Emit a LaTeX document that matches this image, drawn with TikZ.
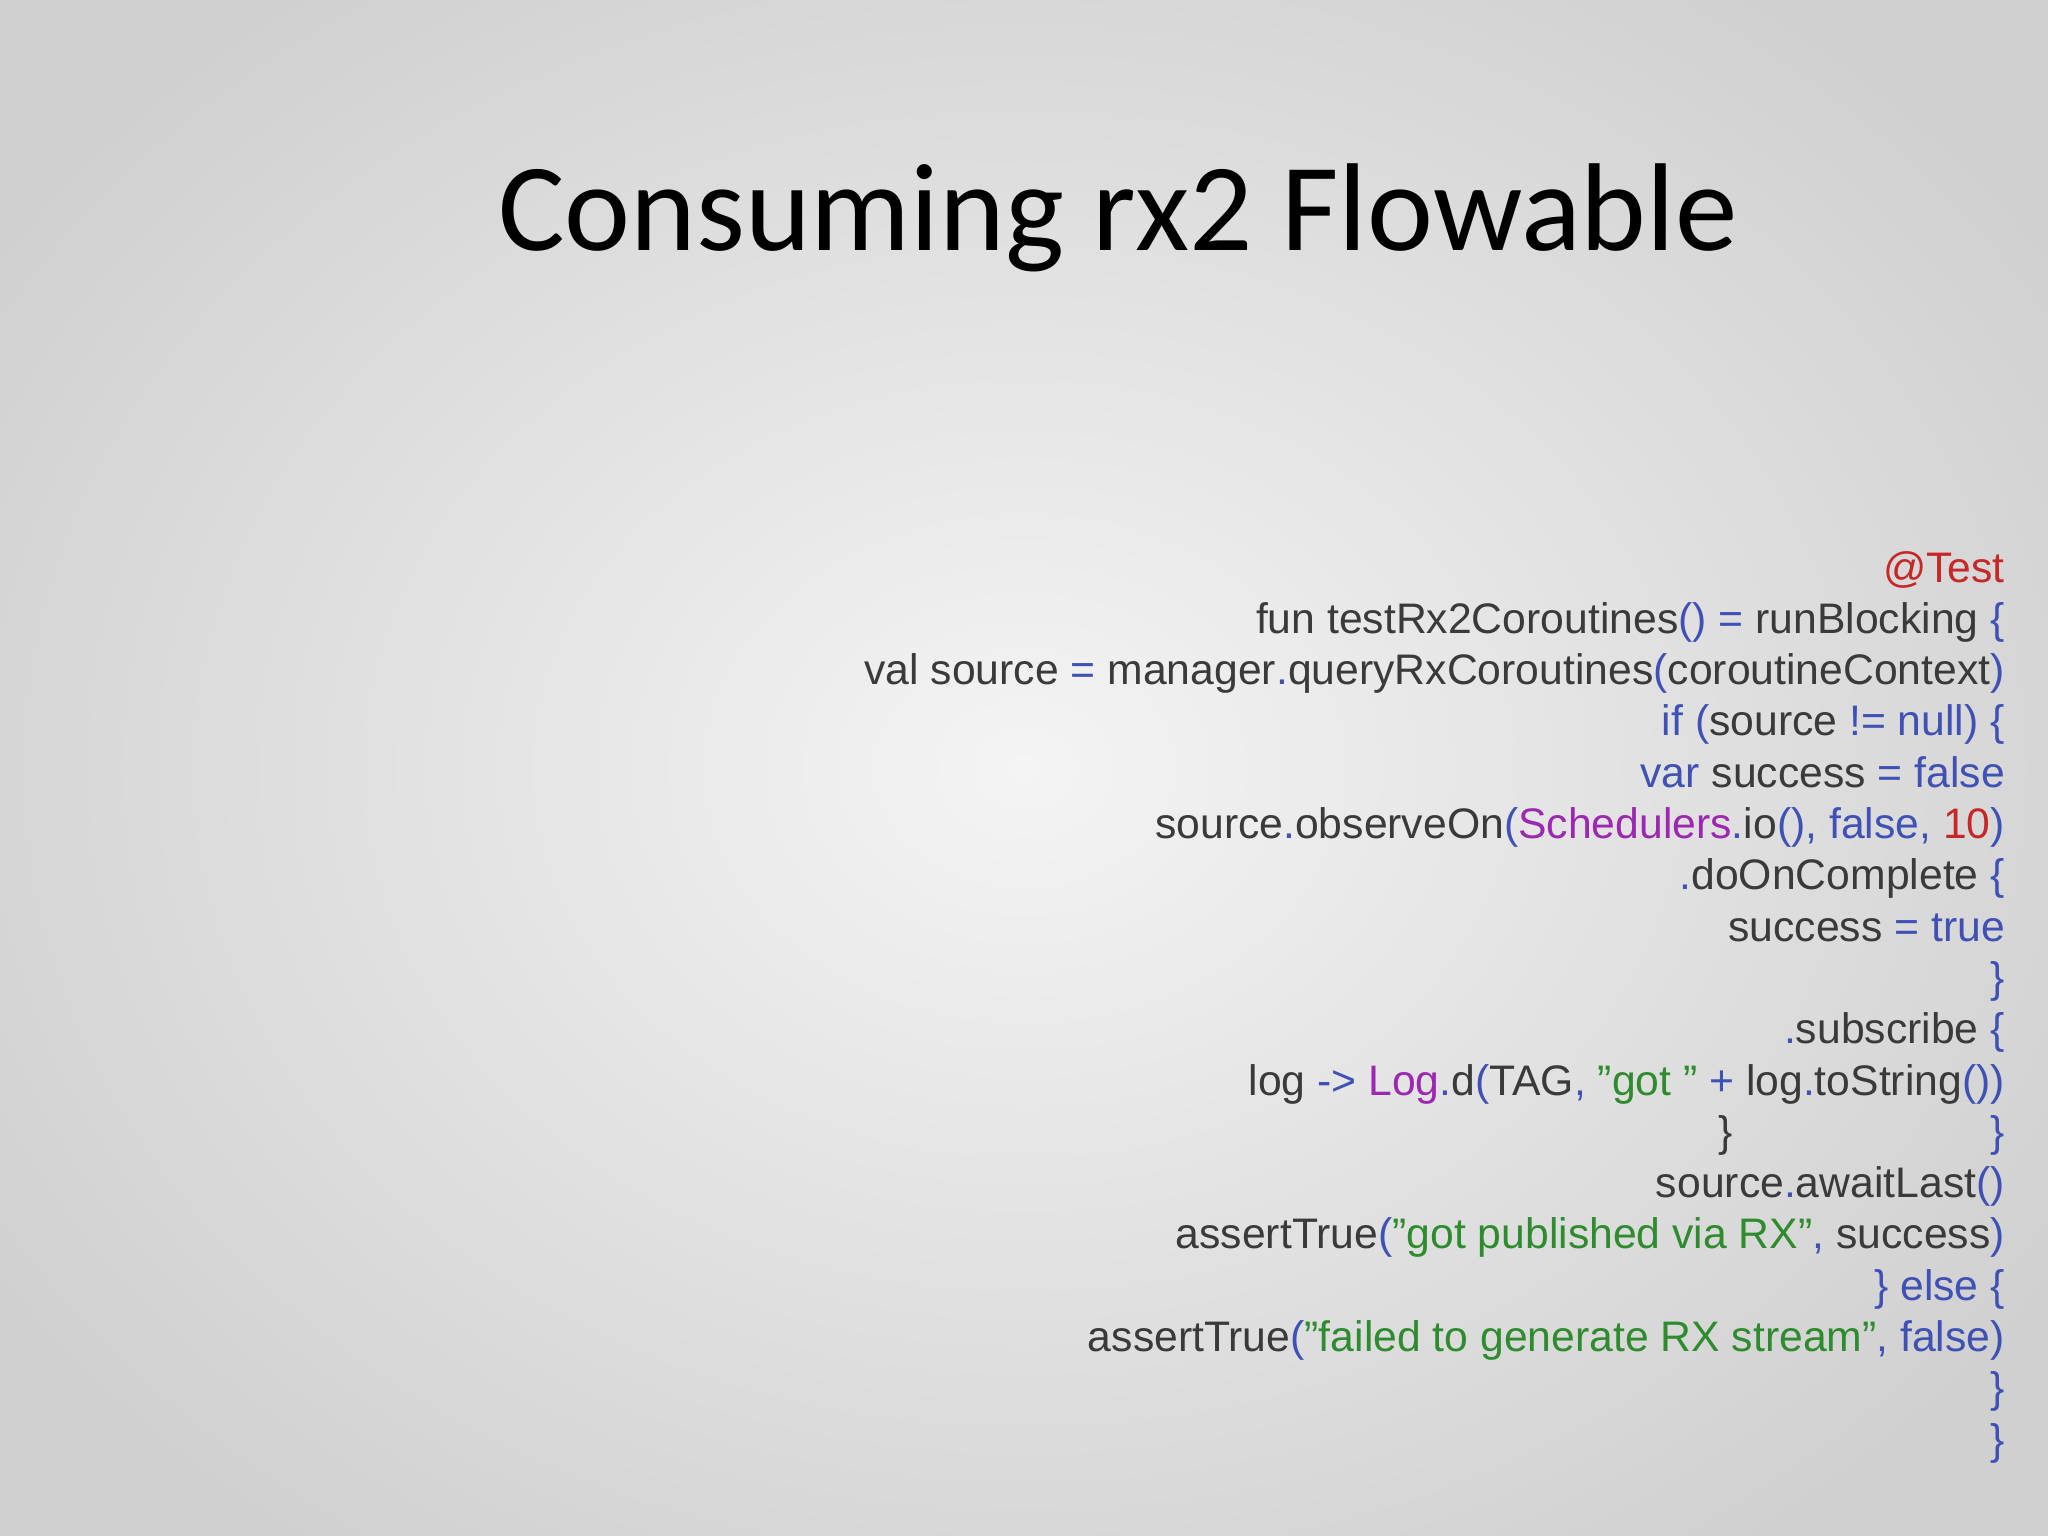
\documentclass[tikz,border=0pt]{standalone}
\usepackage{fontspec}
\setmainfont{Liberation Sans}
\newfontfamily\titlefont{Carlito}
\definecolor{cdark}{HTML}{3A3A3A}
\definecolor{cblue}{HTML}{3F51B5}
\definecolor{cred}{HTML}{C62828}
\definecolor{cpur}{HTML}{9C27B0}
\definecolor{cgreen}{HTML}{2E8B2E}
\definecolor{bgin}{HTML}{F4F4F4}
\definecolor{bgout}{HTML}{D0D0D0}
\newcommand{\Bl}[1]{\textcolor{cblue}{#1}}
\newcommand{\Dk}[1]{\textcolor{cdark}{#1}}
\newcommand{\Rd}[1]{\textcolor{cred}{#1}}
\newcommand{\Pu}[1]{\textcolor{cpur}{#1}}
\newcommand{\Gr}[1]{\textcolor{cgreen}{#1}}
\newcommand{\qq}{\symbol{34}}
\begin{document}
\begin{tikzpicture}[x=1pt,y=-1pt,
  codeline/.style={anchor=base east,inner sep=0pt,font=\fontsize{42.7}{50}\selectfont}]
\useasboundingbox (0,0) rectangle (2048,1536);
\shade[inner color=bgin,outer color=bgout] (-200,-200) rectangle (2248,1736);
\node[anchor=base,inner sep=0pt,font=\titlefont\fontsize{125}{150}\selectfont] (title) at (1118,250) {Consuming rx2 Flowable};
\def\ls{51.3}
\node[codeline] (l1) at (2005,582) {\Rd{@Test}};
\node[codeline] (l2) at (2005,582+\ls) {\Dk{fun testRx2Coroutines}\Bl{() =} \Dk{runBlocking} \Bl{\{}};
\node[codeline] (l3) at (2005,582+2*\ls) {\Dk{val source} \Bl{=} \Dk{manager}\Bl{.}\Dk{queryRxCoroutines}\Bl{(}\Dk{coroutineContext}\Bl{)}};
\node[codeline] (l4) at (2005,582+3*\ls) {\Bl{if (}\Dk{source} \Bl{!= null) \{}};
\node[codeline] (l5) at (2005,582+4*\ls) {\Bl{var} \Dk{success} \Bl{= false}};
\node[codeline] (l6) at (2005,582+5*\ls) {\Dk{source}\Bl{.}\Dk{observeOn}\Bl{(}\Pu{Schedulers}\Bl{.}\Dk{io}\Bl{(), false,} \Rd{10}\Bl{)}};
\node[codeline] (l7) at (2005,582+6*\ls) {\Bl{.}\Dk{doOnComplete} \Bl{\{}};
\node[codeline] (l8) at (2005,582+7*\ls) {\Dk{success} \Bl{= true}};
\node[codeline] (l9) at (2005,582+8*\ls) {\Bl{\}}};
\node[codeline] (l10) at (2005,582+9*\ls) {\Bl{.}\Dk{subscribe} \Bl{\{}};
\node[codeline] (l11) at (2005,582+10*\ls) {\Dk{log} \Bl{->} \Pu{Log}\Bl{.}\Dk{d}\Bl{(}\Dk{TAG}\Bl{,} \Gr{\qq got \qq} \Bl{+} \Dk{log}\Bl{.}\Dk{toString}\Bl{())}};
\node[codeline] (l12a) at (1733,582+11*\ls) {\Dk{\}}};
\node[codeline] (l12) at (2005,582+11*\ls) {\Bl{\}}};
\node[codeline] (l13) at (2005,582+12*\ls) {\Dk{source}\Bl{.}\Dk{awaitLast}\Bl{()}};
\node[codeline] (l14) at (2005,582+13*\ls) {\Dk{assertTrue}\Bl{(}\Gr{\qq got published via RX\qq}\Bl{,} \Dk{success}\Bl{)}};
\node[codeline] (l15) at (2005,582+14*\ls) {\Bl{\} else \{}};
\node[codeline] (l16) at (2005,582+15*\ls) {\Dk{assertTrue}\Bl{(}\Gr{\qq failed to generate RX stream\qq}\Bl{, false)}};
\node[codeline] (l17) at (2005,582+16*\ls) {\Bl{\}}};
\node[codeline] (l18) at (2005,582+17*\ls) {\Bl{\}}};
\end{tikzpicture}
\end{document}
